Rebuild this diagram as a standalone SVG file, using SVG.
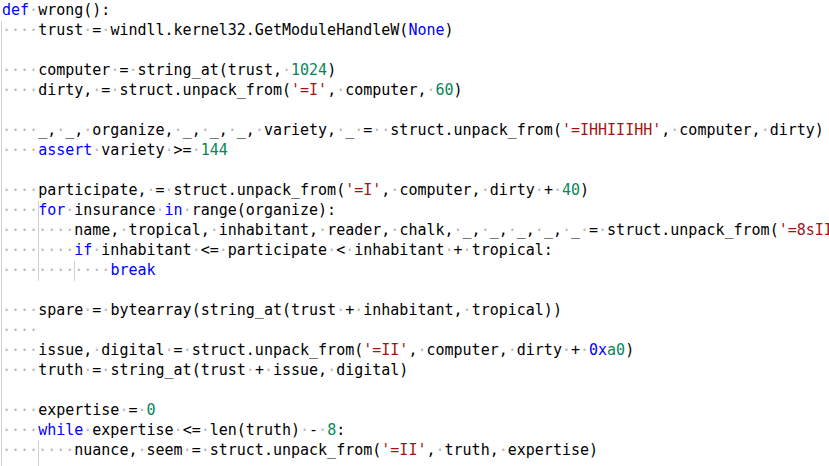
<svg xmlns="http://www.w3.org/2000/svg" width="829" height="466" viewBox="0 0 829 466">
<style>
text{font-family:"DejaVu Sans Mono",monospace;font-size:15px;fill:#000}
.w{fill:#b8b8b8}.k{fill:#0000ff}.s{fill:#a31515}.n{fill:#098658}
.g{stroke:#d0d0d0;stroke-width:1}
</style>
<rect width="829" height="466" fill="#fff"/>
<g id="guides">
<line class="g" x1="1.5" y1="21" x2="1.5" y2="466"/>
<line class="g" x1="38.5" y1="201" x2="38.5" y2="281"/>
<line class="g" x1="74.5" y1="261" x2="74.5" y2="281"/>
<line class="g" x1="38.5" y1="441" x2="38.5" y2="466"/>
</g>
<g id="code">
<text x="2" y="15"><tspan class="k">def</tspan><tspan class="w">·</tspan>wrong():</text>
<text x="2" y="35"><tspan class="w">····</tspan>trust<tspan class="w">·</tspan>=<tspan class="w">·</tspan>windll.kernel32.GetModuleHandleW(<tspan class="k">None</tspan>)</text>
<text x="2" y="75"><tspan class="w">····</tspan>computer<tspan class="w">·</tspan>=<tspan class="w">·</tspan>string_at(trust,<tspan class="w">·</tspan><tspan class="n">1024</tspan>)</text>
<text x="2" y="95"><tspan class="w">····</tspan>dirty,<tspan class="w">·</tspan>=<tspan class="w">·</tspan>struct.unpack_from(<tspan class="s">'=I'</tspan>,<tspan class="w">·</tspan>computer,<tspan class="w">·</tspan><tspan class="n">60</tspan>)</text>
<text x="2" y="135"><tspan class="w">····</tspan>_,<tspan class="w">·</tspan>_,<tspan class="w">·</tspan>organize,<tspan class="w">·</tspan>_,<tspan class="w">·</tspan>_,<tspan class="w">·</tspan>_,<tspan class="w">·</tspan>variety,<tspan class="w">·</tspan>_<tspan class="w">·</tspan>=<tspan class="w">··</tspan>struct.unpack_from(<tspan class="s">'=IHHIIIHH'</tspan>,<tspan class="w">·</tspan>computer,<tspan class="w">·</tspan>dirty)</text>
<text x="2" y="155"><tspan class="w">····</tspan><tspan class="k">assert</tspan><tspan class="w">·</tspan>variety<tspan class="w">·</tspan>&gt;=<tspan class="w">·</tspan><tspan class="n">144</tspan></text>
<text x="2" y="195"><tspan class="w">····</tspan>participate,<tspan class="w">·</tspan>=<tspan class="w">·</tspan>struct.unpack_from(<tspan class="s">'=I'</tspan>,<tspan class="w">·</tspan>computer,<tspan class="w">·</tspan>dirty<tspan class="w">·</tspan>+<tspan class="w">·</tspan><tspan class="n">40</tspan>)</text>
<text x="2" y="215"><tspan class="w">····</tspan><tspan class="k">for</tspan><tspan class="w">·</tspan>insurance<tspan class="w">·</tspan><tspan class="k">in</tspan><tspan class="w">·</tspan>range(organize):</text>
<text x="2" y="235"><tspan class="w">········</tspan>name,<tspan class="w">·</tspan>tropical,<tspan class="w">·</tspan>inhabitant,<tspan class="w">·</tspan>reader,<tspan class="w">·</tspan>chalk,<tspan class="w">·</tspan>_,<tspan class="w">·</tspan>_,<tspan class="w">·</tspan>_,<tspan class="w">·</tspan>_,<tspan class="w">·</tspan>_<tspan class="w">·</tspan>=<tspan class="w">·</tspan>struct.unpack_from(<tspan class="s">'=8sII</tspan></text>
<text x="2" y="255"><tspan class="w">········</tspan><tspan class="k">if</tspan><tspan class="w">·</tspan>inhabitant<tspan class="w">·</tspan>&lt;=<tspan class="w">·</tspan>participate<tspan class="w">·</tspan>&lt;<tspan class="w">·</tspan>inhabitant<tspan class="w">·</tspan>+<tspan class="w">·</tspan>tropical:</text>
<text x="2" y="275"><tspan class="w">············</tspan><tspan class="k">break</tspan></text>
<text x="2" y="315"><tspan class="w">····</tspan>spare<tspan class="w">·</tspan>=<tspan class="w">·</tspan>bytearray(string_at(trust<tspan class="w">·</tspan>+<tspan class="w">·</tspan>inhabitant,<tspan class="w">·</tspan>tropical))</text>
<text x="2" y="335"><tspan class="w">····</tspan></text>
<text x="2" y="355"><tspan class="w">····</tspan>issue,<tspan class="w">·</tspan>digital<tspan class="w">·</tspan>=<tspan class="w">·</tspan>struct.unpack_from(<tspan class="s">'=II'</tspan>,<tspan class="w">·</tspan>computer,<tspan class="w">·</tspan>dirty<tspan class="w">·</tspan>+<tspan class="w">·</tspan><tspan class="k">0x</tspan><tspan class="n">a0</tspan>)</text>
<text x="2" y="375"><tspan class="w">····</tspan>truth<tspan class="w">·</tspan>=<tspan class="w">·</tspan>string_at(trust<tspan class="w">·</tspan>+<tspan class="w">·</tspan>issue,<tspan class="w">·</tspan>digital)</text>
<text x="2" y="415"><tspan class="w">····</tspan>expertise<tspan class="w">·</tspan>=<tspan class="w">·</tspan><tspan class="n">0</tspan></text>
<text x="2" y="435"><tspan class="w">····</tspan><tspan class="k">while</tspan><tspan class="w">·</tspan>expertise<tspan class="w">·</tspan>&lt;=<tspan class="w">·</tspan>len(truth)<tspan class="w">·</tspan>-<tspan class="w">·</tspan><tspan class="n">8</tspan>:</text>
<text x="2" y="455"><tspan class="w">········</tspan>nuance,<tspan class="w">·</tspan>seem<tspan class="w">·</tspan>=<tspan class="w">·</tspan>struct.unpack_from(<tspan class="s">'=II'</tspan>,<tspan class="w">·</tspan>truth,<tspan class="w">·</tspan>expertise)</text>
</g>
</svg>
